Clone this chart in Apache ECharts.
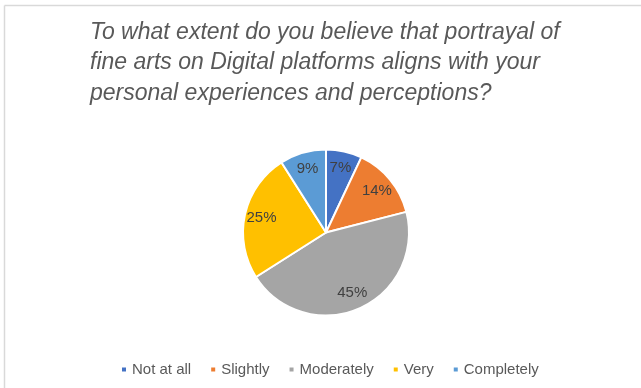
<!DOCTYPE html>
<html>
<head>
<meta charset="utf-8">
<script src="https://cdn.jsdelivr.net/npm/echarts@6/dist/echarts.min.js"></script>
<style>
  html, body { margin: 0; padding: 0; background: #fff; }
  #chart { width: 641px; height: 388px; }
</style>
</head>
<body>
<div id="chart"></div>
<script>
// Survey answers and their shares (percent)
const categories = ['Not at all', 'Slightly', 'Moderately', 'Very', 'Completely'];
const shares = [7, 14, 45, 25, 9];
const sliceColors = ['#4472C4', '#ED7D31', '#A5A5A5', '#FFC000', '#5B9BD5'];
const titleLines = [
  'To what extent do you believe that portrayal of',
  'fine arts on Digital platforms aligns with your',
  'personal experiences and perceptions?'
];

const R = 83;            // pie radius in px
const labelRatio = 0.76; // labels sit at roughly 3/4 of the radius

// middle angle of each slice, clockwise from 12 o'clock
const total = shares.reduce((a, b) => a + b, 0);
const midAngles = [];
let acc = 0;
shares.forEach(v => {
  midAngles.push((acc + v / 2) / total * 2 * Math.PI);
  acc += v;
});

const chart = echarts.init(document.getElementById('chart'), null, { renderer: 'canvas' });
chart.setOption({
  animation: false,
  backgroundColor: '#ffffff',
  title: {
    text: titleLines.join('\n'),
    left: 85,
    top: 12,
    textStyle: {
      fontFamily: 'Liberation Sans',
      fontStyle: 'italic',
      fontWeight: 'normal',
      fontSize: 23,
      lineHeight: 30.5,
      color: '#595959'
    }
  },
  legend: {
    data: categories,
    top: 357,
    left: 115,
    icon: 'rect',
    itemWidth: 6,
    itemHeight: 6,
    itemGap: 18,
    textStyle: {
      fontFamily: 'Liberation Sans',
      fontSize: 15,
      color: '#595959'
    }
  },
  graphic: [
    { type: 'line', shape: { x1: 4.5, y1: 5.5, x2: 641, y2: 5.5 }, style: { stroke: '#d9d9d9', lineWidth: 1.5 }, silent: true },
    { type: 'line', shape: { x1: 4.5, y1: 5.5, x2: 4.5, y2: 388 }, style: { stroke: '#d9d9d9', lineWidth: 1.5 }, silent: true }
  ],
  series: [{
    type: 'pie',
    center: [326, 232.5],
    radius: [0, R],
    startAngle: 90,
    clockwise: true,
    avoidLabelOverlap: false,
    itemStyle: { borderColor: '#ffffff', borderWidth: 2 },
    label: {
      show: true,
      position: 'inside',
      formatter: '{c}%',
      fontFamily: 'Liberation Sans',
      fontSize: 15,
      color: '#404040'
    },
    labelLayout: function (params) {
      const a = midAngles[params.dataIndex];
      const shift = (labelRatio - 0.5) * R;
      return { dx: shift * Math.sin(a), dy: -shift * Math.cos(a) };
    },
    emphasis: { disabled: true },
    data: categories.map((name, i) => ({
      name: name,
      value: shares[i],
      itemStyle: { color: sliceColors[i] }
    }))
  }]
});
</script>
</body>
</html>
